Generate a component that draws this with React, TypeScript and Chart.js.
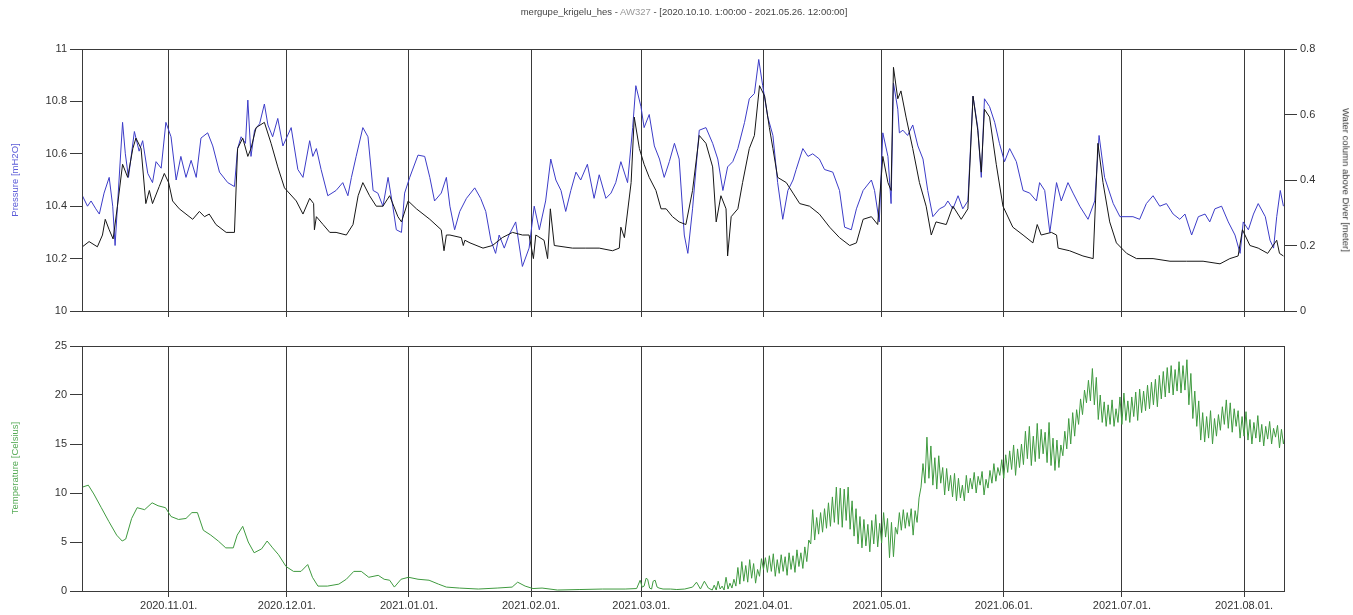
import React, { useEffect, useRef } from 'react';
import { Chart, registerables } from 'chart.js';

Chart.register(...registerables);

// x values are days since 2020.10.10.
const monthTickDays = [22, 52, 83, 114, 142, 173, 203, 234, 264, 295];
const monthTickLabels = ['2020.11.01.', '2020.12.01.', '2021.01.01.', '2021.02.01.', '2021.03.01.', '2021.04.01.', '2021.05.01.', '2021.06.01.', '2021.07.01.', '2021.08.01.'];
const dayRange = [0, 305.4];
const pressureRange = [10, 11];
const waterRange = [0, 0.8];
const tempRange = [0, 25];

// Pressure [mH2O] (blue, left axis): [day, value]
const pressureSeries: [number, number][] = [
  [0.1,10.44],[1.4,10.40],[2.3,10.42],[3.5,10.39],[4.4,10.37],[5.6,10.45],[6.9,10.51],[7.8,10.40],[8.4,10.25],[9.0,10.40],
  [10.3,10.72],[11.0,10.60],[11.8,10.51],[13.3,10.685],[14.5,10.61],[15.4,10.65],[16.7,10.525],[17.9,10.49],[18.8,10.57],[20.1,10.545],
  [21.3,10.72],[22.6,10.665],[23.9,10.50],[25.1,10.59],[26.4,10.51],[27.7,10.575],[29.0,10.51],[30.2,10.66],[31.9,10.68],[33.2,10.63],
  [34.9,10.53],[37.0,10.49],[38.7,10.475],[39.5,10.62],[40.4,10.665],[41.5,10.64],[42.1,10.805],[42.9,10.59],[43.8,10.69],[45.1,10.715],
  [46.3,10.79],[47.2,10.71],[48.4,10.665],[49.7,10.735],[51.0,10.63],[53.1,10.70],[54.8,10.54],[56.1,10.51],[57.8,10.65],[58.6,10.59],
  [59.5,10.62],[60.7,10.54],[62.4,10.44],[64.5,10.46],[66.2,10.49],[67.5,10.44],[68.4,10.51],[69.6,10.59],[71.3,10.70],[72.6,10.665],
  [73.9,10.46],[75.1,10.45],[76.4,10.40],[77.7,10.51],[78.9,10.40],[79.8,10.31],[81.1,10.30],[81.9,10.45],[83.2,10.51],[85.3,10.595],
  [87.0,10.59],[88.3,10.51],[89.5,10.42],[91.2,10.45],[92.5,10.51],[93.4,10.40],[94.6,10.31],[95.9,10.38],[97.6,10.43],[99.7,10.47],
  [101.2,10.43],[102.5,10.38],[103.8,10.27],[105.0,10.22],[105.9,10.29],[107.2,10.24],[108.4,10.29],[110.1,10.34],[111.8,10.17],[113.5,10.24],
  [114.8,10.40],[116.1,10.31],[117.7,10.42],[119.0,10.58],[120.3,10.50],[121.6,10.46],[122.8,10.38],[124.1,10.46],[125.4,10.53],[126.6,10.50],
  [128.3,10.56],[130.0,10.43],[131.3,10.52],[133.0,10.43],[134.3,10.45],[135.5,10.49],[136.8,10.57],[138.5,10.49],[139.8,10.70],[140.6,10.86],
  [141.9,10.78],[142.7,10.70],[144.0,10.75],[145.3,10.63],[146.6,10.58],[147.8,10.51],[149.1,10.57],[150.4,10.64],[151.6,10.58],[152.9,10.29],
  [153.8,10.22],[155.0,10.39],[156.7,10.69],[158.4,10.70],[160.1,10.64],[161.4,10.58],[162.7,10.46],[163.9,10.55],[165.2,10.57],[166.5,10.62],
  [168.2,10.72],[169.4,10.81],[170.7,10.83],[171.8,10.96],[172.8,10.86],[174.1,10.74],[175.4,10.67],[176.6,10.49],[177.9,10.35],[179.2,10.46],
  [180.5,10.50],[181.3,10.54],[183.0,10.62],[184.3,10.59],[185.5,10.60],[187.2,10.58],[188.5,10.54],[190.6,10.53],[192.3,10.46],[193.6,10.32],
  [195.3,10.31],[196.6,10.39],[198.3,10.46],[200.4,10.50],[201.2,10.46],[202.4,10.34],[203.3,10.68],[204.6,10.59],[205.4,10.41],[206.0,10.87],
  [207.1,10.77],[207.5,10.68],[208.4,10.69],[209.6,10.67],[210.9,10.71],[212.2,10.63],[213.5,10.58],[214.7,10.46],[216.0,10.36],[217.7,10.39],
  [219.0,10.40],[219.8,10.42],[221.1,10.39],[222.4,10.44],[223.6,10.39],[224.9,10.42],[226.2,10.82],[227.4,10.70],[228.3,10.51],[229.1,10.81],
  [230.4,10.78],[231.7,10.72],[232.9,10.64],[234.2,10.57],[235.5,10.62],[237.2,10.57],[238.9,10.46],[240.6,10.45],[242.3,10.42],[243.1,10.49],
  [244.4,10.46],[245.7,10.30],[247.4,10.49],[248.6,10.42],[250.3,10.49],[251.6,10.45],[253.3,10.40],[255.4,10.35],[257.1,10.42],[258.2,10.67],
  [259.6,10.51],[261.8,10.41],[263.5,10.36],[266.8,10.36],[268.5,10.35],[270.2,10.41],[271.9,10.44],[273.6,10.40],[275.3,10.41],[277.0,10.37],
  [278.7,10.35],[280.0,10.37],[281.7,10.29],[283.4,10.36],[285.1,10.37],[286.3,10.34],[287.6,10.39],[289.3,10.40],[291.0,10.34],[292.7,10.29],
  [294.0,10.22],[294.8,10.34],[296.1,10.31],[297.4,10.37],[298.6,10.41],[300.4,10.36],[301.6,10.27],[302.5,10.24],[303.3,10.36],[304.2,10.46],
  [305.0,10.40],
];

// Water column above Diver [meter] (black, right axis): [day, value]
const waterSeries: [number, number][] = [
  [0.1,0.196],[1.8,0.212],[3.9,0.196],[5.2,0.232],[5.9,0.28],[6.9,0.248],[7.9,0.22],[9.0,0.32],[10.3,0.448],[11.6,0.408],
  [12.9,0.496],[13.7,0.528],[15.0,0.496],[16.2,0.328],[17.1,0.368],[17.9,0.328],[19.6,0.38],[20.9,0.42],[22.0,0.392],[23.0,0.336],
  [24.7,0.312],[26.4,0.296],[28.1,0.28],[29.8,0.304],[31.1,0.288],[32.3,0.296],[34.0,0.264],[36.6,0.24],[38.7,0.24],[39.5,0.496],
  [40.8,0.528],[42.1,0.472],[42.9,0.496],[44.2,0.56],[46.3,0.576],[48.0,0.512],[49.7,0.44],[51.4,0.376],[54.4,0.336],[56.1,0.296],
  [57.8,0.344],[58.8,0.328],[59.0,0.248],[59.5,0.288],[61.2,0.264],[62.9,0.24],[64.5,0.24],[67.1,0.232],[68.8,0.264],[70.1,0.352],
  [71.3,0.392],[73.0,0.352],[74.7,0.32],[76.4,0.32],[78.1,0.352],[80.2,0.288],[81.1,0.272],[82.8,0.336],[84.9,0.312],[88.3,0.28],
  [91.2,0.248],[91.9,0.184],[92.5,0.232],[93.4,0.232],[96.3,0.224],[96.8,0.2],[97.2,0.216],[98.5,0.208],[101.8,0.192],[104.2,0.2],
  [106.7,0.224],[109.3,0.24],[111.8,0.232],[113.5,0.232],[114.6,0.16],[115.2,0.232],[117.3,0.216],[118.2,0.16],[118.9,0.312],[119.9,0.2],
  [124.5,0.192],[127.9,0.192],[131.3,0.192],[134.7,0.184],[136.4,0.192],[136.8,0.256],[137.7,0.224],[139.4,0.392],[140.2,0.592],[141.5,0.496],
  [142.7,0.448],[144.0,0.408],[145.7,0.368],[147.0,0.312],[148.3,0.312],[149.9,0.288],[151.6,0.272],[153.3,0.264],[155.0,0.368],[156.7,0.536],
  [158.4,0.512],[160.1,0.44],[161.0,0.272],[162.2,0.352],[163.5,0.312],[163.9,0.168],[164.8,0.288],[166.5,0.312],[167.7,0.392],[169.4,0.496],
  [170.7,0.536],[172.0,0.688],[173.3,0.656],[174.5,0.56],[175.4,0.496],[176.6,0.408],[178.8,0.392],[180.5,0.36],[182.2,0.328],[184.7,0.32],
  [187.2,0.296],[189.8,0.256],[192.3,0.224],[194.9,0.2],[196.6,0.208],[198.3,0.28],[200.4,0.288],[202.0,0.264],[203.3,0.472],[204.6,0.392],
  [205.4,0.368],[206.0,0.744],[207.1,0.648],[207.9,0.672],[209.2,0.592],[210.9,0.496],[212.6,0.392],[214.3,0.32],[215.6,0.232],[216.8,0.272],
  [219.4,0.264],[221.1,0.32],[223.2,0.28],[224.9,0.312],[226.2,0.656],[227.4,0.552],[228.3,0.424],[229.1,0.616],[230.4,0.592],[232.1,0.448],
  [233.8,0.32],[236.3,0.256],[238.9,0.232],[241.4,0.208],[242.5,0.264],[243.5,0.232],[246.1,0.24],[247.4,0.232],[247.8,0.192],[250.7,0.184],
  [254.1,0.168],[256.7,0.16],[257.9,0.512],[259.2,0.392],[260.9,0.272],[262.6,0.208],[265.2,0.176],[267.7,0.16],[271.9,0.16],[276.2,0.152],
  [280.4,0.152],[284.6,0.152],[288.9,0.144],[291.4,0.16],[293.5,0.168],[294.6,0.248],[296.5,0.2],[298.6,0.192],[301.0,0.176],[303.3,0.216],
  [304.0,0.176],[305.0,0.168],
];

// Temperature [Celsius] autumn/winter (smooth part): [day, value]
const tempWinterSeries: [number, number][] = [
  [0.1,10.6],[1.6,10.8],[3.0,9.9],[4.9,8.5],[6.8,7.1],[8.8,5.7],[10.2,5.1],[11.1,5.3],[12.6,7.4],[14.0,8.5],
  [15.9,8.3],[17.8,9.0],[19.3,8.7],[21.2,8.5],[22.6,7.6],[24.5,7.3],[26.4,7.4],[27.9,8.0],[29.3,8.0],[30.8,6.2],
  [32.7,5.7],[34.6,5.1],[36.5,4.4],[38.4,4.4],[39.4,5.7],[40.8,6.6],[42.2,5.0],[43.7,3.9],[45.6,4.3],[47.0,5.1],
  [48.4,4.4],[49.9,3.7],[51.8,2.5],[53.7,2.0],[55.6,2.0],[57.3,2.7],[58.5,1.4],[59.9,0.5],[62.3,0.5],[65.2,0.7],
  [67.1,1.2],[69.0,2.0],[70.9,2.0],[72.8,1.4],[75.2,1.6],[76.7,1.2],[78.1,1.1],[79.3,0.4],[81.0,1.2],[82.9,1.4],
  [85.3,1.2],[88.1,1.1],[90.5,0.7],[92.5,0.4],[95.8,0.3],[100.6,0.2],[105.4,0.3],[109.2,0.4],[110.6,0.9],[112.5,0.5],
  [114.5,0.25],[116.8,0.3],[120.7,0.1],[126.4,0.15],[132.1,0.2],[137.9,0.2],[140.8,0.25],[141.7,1.1],[142.2,0.4],[142.7,0.5],
  [143.2,1.3],[143.6,1.2],[144.1,0.3],[144.6,0.2],[145.0,1.0],[145.5,1.1],[146.0,0.4],[146.5,0.3],[147.5,0.2],[149.4,0.2],
  [151.0,0.15],[153.0,0.2],[155.0,0.4],[156.0,0.9],[157.0,0.2],[158.0,1.0],[159.0,0.3],
];

// Temperature [Celsius] spring/summer, one daily low and high per day starting at day 160
const tempSpringFirstDay = 160;
const tempSpringLow = [
  0.1,0.1,0.2,0.1,0.2,0.3,0.5,0.7,1.0,0.9,
  1.3,0.8,1.5,2.2,1.9,2.0,1.5,1.8,2.0,1.6,
  2.2,1.9,2.5,2.3,3.0,4.8,5.2,5.8,6.0,6.4,
  6.6,7.0,6.8,6.5,7.2,6.3,5.6,4.8,4.4,4.6,
  4.0,4.8,4.5,4.9,5.5,3.4,3.5,5.8,6.2,6.4,
  6.6,5.7,7.0,10.6,11.0,11.5,10.8,10.4,11.0,9.8,
  10.2,9.6,9.2,9.5,9.2,10.0,10.4,10.0,10.8,9.8,
  10.5,11.0,11.2,11.8,11.5,12.1,12.4,11.8,12.6,12.9,
  13.5,12.8,13.2,13.5,14.0,13.1,12.8,12.3,12.6,13.8,
  14.5,15.0,15.8,17.0,18.0,19.2,19.4,19.0,17.5,17.2,
  16.8,17.0,16.8,17.2,17.0,17.4,17.2,17.8,17.4,18.2,
  18.4,18.6,19.0,18.8,19.6,19.8,20.2,20.0,20.4,20.2,
  20.5,19.0,17.6,16.8,15.4,15.2,15.6,15.0,15.8,16.4,
  17.0,16.6,16.2,16.8,15.6,15.8,15.4,15.0,15.6,15.2,
  14.8,15.5,15.0,15.7,14.6,15.0,
];
const tempSpringHigh = [
  0.6,1.0,0.5,1.4,0.8,1.2,2.4,3.0,2.6,3.2,
  2.8,2.2,3.3,3.4,3.6,3.8,3.2,3.7,3.5,3.9,
  3.6,4.2,3.9,4.5,5.2,8.3,7.5,8.0,8.4,9.0,
  9.6,10.6,10.5,10.4,10.6,9.2,8.4,7.6,7.3,6.8,
  7.2,7.8,6.9,8.0,7.4,7.0,6.5,8.0,8.3,8.0,
  8.4,8.2,9.5,13.0,15.7,14.8,13.6,13.8,12.6,12.5,
  11.8,12.0,11.5,10.8,11.8,11.5,12.1,11.7,12.2,11.4,
  12.3,13.0,12.6,13.4,13.9,14.3,14.9,14.5,15.0,16.3,
  16.8,15.8,17.1,16.5,16.2,17.2,15.6,15.4,14.9,16.3,
  17.6,18.2,18.5,19.6,20.5,21.5,22.7,21.8,20.0,19.3,
  19.0,19.5,18.6,19.8,20.2,19.4,19.8,20.3,20.6,20.4,
  21.0,21.3,21.6,22.0,22.4,22.8,23.0,22.6,23.4,23.0,
  23.6,22.2,20.4,19.4,18.2,17.8,18.4,17.6,18.0,18.8,
  19.5,19.2,18.6,18.4,17.8,18.3,17.5,17.2,17.9,17.0,
  16.8,17.3,16.6,16.9,16.5,16.0,
];

const FONT = '"Liberation Sans", Arial, sans-serif';
const FRAME = '#3a3a3a';

const fmt = (v: number) => String(Number(Number(v).toFixed(1)));

const framePlugin = {
  id: 'frame',
  afterDatasetsDraw(chart: any) {
    const { ctx, chartArea: a } = chart;
    const l = Math.round(a.left), t = Math.round(a.top), r = Math.round(a.right), b = Math.round(a.bottom);
    ctx.save();
    ctx.strokeStyle = FRAME;
    ctx.lineWidth = 1;
    ctx.strokeRect(l + 0.5, t + 0.5, r - l - 1, b - t);
    ctx.restore();
  },
};

const TOTAL_W = 1353;
const TOP_H = 330;
const BOT_H = 285;
const PLOT_LEFT = 82;
const PLOT_RIGHT = 1285;

function xScale(showLabels: boolean, axisHeight: number) {
  return {
    type: 'linear',
    bounds: 'data',
    min: dayRange[0],
    max: dayRange[1],
    afterBuildTicks: (s: any) => {
      s.ticks = monthTickDays.map((v) => ({ value: v }));
    },
    afterFit: (s: any) => {
      s.height = axisHeight;
    },
    ticks: {
      display: showLabels,
      autoSkip: false,
      maxRotation: 0,
      padding: 2,
      color: '#333',
      font: { family: FONT, size: 11 },
      callback: (v: number) => {
        const i = monthTickDays.indexOf(Number(v));
        return i >= 0 ? monthTickLabels[i] : '';
      },
    },
    grid: { color: FRAME, lineWidth: 1, drawOnChartArea: true, drawTicks: true, tickLength: 6 },
    border: { display: false },
  };
}

function yScale(position: string, range: number[], step: number, width: number) {
  return {
    type: 'linear',
    position,
    min: range[0],
    max: range[1],
    afterFit: (s: any) => {
      s.width = width;
    },
    ticks: {
      stepSize: step,
      padding: 3,
      color: '#333',
      font: { family: FONT, size: 11 },
      callback: (v: number) => fmt(v),
    },
    grid: { color: FRAME, drawOnChartArea: false, drawTicks: true, tickLength: 12 },
    border: { display: false },
  };
}

export default function App() {
  const topRef = useRef<HTMLCanvasElement | null>(null);
  const botRef = useRef<HTMLCanvasElement | null>(null);

  useEffect(() => {
    const tempPoints: { x: number; y: number }[] = tempWinterSeries.map(([x, y]) => ({ x, y }));
    tempSpringLow.forEach((lo, i) => {
      const d = tempSpringFirstDay + i;
      tempPoints.push({ x: d, y: lo });
      tempPoints.push({ x: d + 0.5, y: tempSpringHigh[i] });
    });

    const common = {
      animation: false,
      responsive: false,
      maintainAspectRatio: false,
      events: [],
      plugins: { legend: { display: false }, tooltip: { enabled: false }, title: { display: false } },
      elements: { point: { radius: 0 }, line: { borderWidth: 1, tension: 0 } },
    };

    const top = new Chart(topRef.current as HTMLCanvasElement, {
      type: 'line',
      data: {
        datasets: [
          {
            label: 'Water column above Diver [meter]',
            data: waterSeries.map(([x, y]) => ({ x, y })),
            yAxisID: 'yW',
            borderColor: '#161616',
            borderWidth: 1,
          },
          {
            label: 'Pressure [mH2O]',
            data: pressureSeries.map(([x, y]) => ({ x, y })),
            yAxisID: 'yP',
            borderColor: '#3c3cc8',
            borderWidth: 1,
          },
        ],
      },
      options: {
        ...common,
        layout: { padding: { top: 49, left: 0, right: 0, bottom: 0 } },
        scales: {
          x: xScale(false, TOP_H - 311),
          yP: yScale('left', pressureRange, 0.2, PLOT_LEFT),
          yW: yScale('right', waterRange, 0.2, TOTAL_W - PLOT_RIGHT),
        },
      } as any,
      plugins: [framePlugin],
    } as any);

    const bot = new Chart(botRef.current as HTMLCanvasElement, {
      type: 'line',
      data: {
        datasets: [
          {
            label: 'Temperature [Celsius]',
            data: tempPoints,
            yAxisID: 'yT',
            borderColor: '#3f9a3f',
            borderWidth: 1,
          },
        ],
      },
      options: {
        ...common,
        layout: { padding: { top: 346 - TOP_H, left: 0, right: TOTAL_W - PLOT_RIGHT, bottom: 0 } },
        scales: {
          x: xScale(true, BOT_H - (591 - TOP_H)),
          yT: yScale('left', tempRange, 5, PLOT_LEFT),
        },
      } as any,
      plugins: [framePlugin],
    } as any);

    return () => {
      top.destroy();
      bot.destroy();
    };
  }, []);

  const txt: React.CSSProperties = {
    position: 'absolute',
    fontFamily: FONT,
    fontSize: 9.5,
    whiteSpace: 'nowrap',
    lineHeight: 1,
  };

  return (
    <div style={{ position: 'absolute', left: 0, top: 0, width: TOTAL_W, height: TOP_H + BOT_H, background: '#fff', overflow: 'hidden' }}>
      <canvas ref={topRef} width={TOTAL_W} height={TOP_H} style={{ position: 'absolute', left: 0, top: 0, width: TOTAL_W, height: TOP_H }} />
      <canvas ref={botRef} width={TOTAL_W} height={BOT_H} style={{ position: 'absolute', left: 0, top: TOP_H, width: TOTAL_W, height: BOT_H }} />
      <div style={{ ...txt, left: 684, top: 12, transform: 'translate(-50%, -50%)', color: '#444' }}>
        mergupe_krigelu_hes - <span style={{ color: '#999' }}>AW327</span> - [2020.10.10. 1:00:00 - 2021.05.26. 12:00:00]
      </div>
      <div style={{ ...txt, left: 15, top: 180, transform: 'translate(-50%, -50%) rotate(-90deg)', color: '#5b5bd8' }}>
        Pressure [mH2O]
      </div>
      <div style={{ ...txt, left: 1346, top: 180, transform: 'translate(-50%, -50%) rotate(90deg)', color: '#333' }}>
        Water column above Diver [meter]
      </div>
      <div style={{ ...txt, left: 15, top: 468, transform: 'translate(-50%, -50%) rotate(-90deg)', color: '#55aa55' }}>
        Temperature [Celsius]
      </div>
    </div>
  );
}
